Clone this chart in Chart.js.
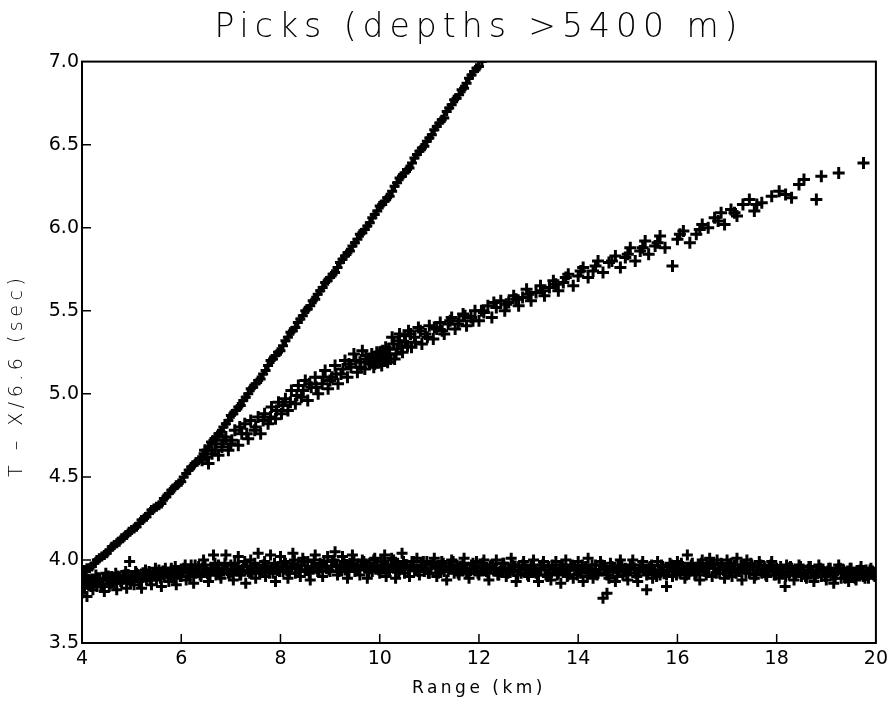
<!DOCTYPE html>
<html>
<head>
<meta charset="utf-8">
<title>Picks (depths >5400 m)</title>
<script src="https://cdn.jsdelivr.net/npm/chart.js@4.4.1/dist/chart.umd.min.js"></script>
<style>
  html, body { margin: 0; padding: 0; background: #fff; }
  #wrap { width: 893px; height: 711px; position: relative; }
</style>
</head>
<body>
<div id="wrap"><canvas id="picksChart"></canvas></div>
<script>
// axis ranges and tick labels
var xTicks = [4, 6, 8, 10, 12, 14, 16, 18, 20];
var yTicks = [3.5, 4.0, 4.5, 5.0, 5.5, 6.0, 6.5, 7.0];

// steep branch (direct arrival), [range km, reduced time s]
var steepPicks = [
  [4.00,3.92],[4.10,3.95],[4.20,3.96],[4.30,4.00],[4.40,4.02],[4.50,4.04],[4.60,4.08],[4.70,4.10],
  [4.80,4.13],[4.90,4.15],[5.00,4.18],[5.10,4.20],[5.20,4.24],[5.30,4.26],[5.40,4.30],[5.50,4.32],
  [5.60,4.34],[5.70,4.38],[5.80,4.42],[5.90,4.45],[6.00,4.47],[6.10,4.52],[6.20,4.56],[6.30,4.59],
  [6.40,4.61],[6.50,4.66],[6.60,4.71],[6.70,4.74],[6.80,4.77],[6.90,4.82],[7.00,4.87],[7.10,4.90],
  [7.20,4.93],[7.30,4.98],[7.40,5.03],[7.50,5.06],[7.60,5.09],[7.70,5.14],[7.80,5.20],[7.90,5.23],
  [8.00,5.26],[8.10,5.32],[8.20,5.37],[8.30,5.40],[8.40,5.45],[8.50,5.50],[8.60,5.53],[8.70,5.57],
  [8.80,5.62],[8.90,5.67],[9.00,5.70],[9.10,5.73],[9.20,5.79],[9.30,5.83],[9.40,5.86],[9.50,5.91],
  [9.60,5.96],[9.70,5.99],[9.80,6.03],[9.90,6.08],[10.00,6.13],[10.10,6.16],[10.20,6.19],[10.30,6.25],
  [10.40,6.30],[10.50,6.33],[10.60,6.36],[10.70,6.42],[10.80,6.46],[10.90,6.49],[11.00,6.54],[11.10,6.59],
  [11.20,6.63],[11.30,6.66],[11.40,6.72],[11.50,6.77],[11.60,6.80],[11.70,6.84],[11.80,6.90],[11.90,6.94],
  [12.00,6.97],[12.06,7.00],
  [4.05,3.94],[4.15,3.95],[4.25,3.98],[4.35,4.01],[4.45,4.03],[4.55,4.06],[4.65,4.09],[4.75,4.11],
  [4.85,4.14],[4.95,4.17],[5.05,4.19],[5.15,4.22],[5.25,4.25],[5.35,4.28],[5.45,4.31],[5.55,4.33],
  [5.65,4.37],[5.75,4.40],[5.85,4.43],[5.95,4.46],[6.05,4.50],[6.15,4.54],[6.25,4.57],[6.35,4.60],
  [6.45,4.64],[6.55,4.68],[6.65,4.72],[6.75,4.76],[6.85,4.80],[6.95,4.84],[7.05,4.88],[7.15,4.92],
  [7.25,4.96],[7.35,5.00],[7.45,5.04],[7.55,5.08],[7.65,5.12],[7.75,5.17],[7.85,5.21],[7.95,5.25],
  [8.05,5.29],[8.15,5.34],[8.25,5.38],[8.35,5.43],[8.45,5.47],[8.55,5.51],[8.65,5.56],[8.75,5.60],
  [8.85,5.64],[8.95,5.68],[9.05,5.72],[9.15,5.76],[9.25,5.81],[9.35,5.85],[9.45,5.89],[9.55,5.93],
  [9.65,5.97],[9.75,6.01],[9.85,6.06],[9.95,6.10],[10.05,6.14],[10.15,6.18],[10.25,6.22],[10.35,6.27],
  [10.45,6.31],[10.55,6.35],[10.65,6.39],[10.75,6.44],[10.85,6.48],[10.95,6.52],[11.05,6.56],[11.15,6.61],
  [11.25,6.65],[11.35,6.70],[11.45,6.74],[11.55,6.78],[11.65,6.83],[11.75,6.87],[11.85,6.92],[11.95,6.96]
];

// middle branch (refracted arrival)
var midPicks = [
  [6.42,4.60],[6.48,4.66],[6.55,4.58],[6.62,4.64],[6.70,4.70],[6.75,4.63],[6.82,4.68],[6.90,4.74],
  [6.95,4.66],[7.02,4.72],[7.08,4.78],[7.15,4.69],[7.22,4.76],[7.28,4.82],[7.35,4.73],[7.40,4.84],
  [7.48,4.78],[7.55,4.86],[7.60,4.76],[7.68,4.88],[7.75,4.82],[7.82,4.92],[7.90,4.85],[7.96,4.95],
  [8.02,4.88],[8.10,4.97],[8.15,4.90],[8.22,5.02],[8.30,4.94],[8.36,5.05],[8.42,4.98],[8.50,5.08],
  [8.55,4.96],[8.62,5.04],[8.70,5.10],[8.76,5.00],[8.84,5.06],[8.90,5.14],[8.96,5.03],[9.04,5.10],
  [9.10,5.17],[9.16,5.06],[9.22,5.12],[9.30,5.20],[9.35,5.10],[9.42,5.16],[9.48,5.24],[9.55,5.13],
  [9.60,5.19],[9.65,5.26],[9.70,5.15],[9.74,5.21],[9.80,5.18],[9.84,5.24],[9.88,5.16],[9.92,5.22],
  [9.96,5.19],[10.00,5.25],[10.04,5.17],[10.08,5.22],[10.12,5.28],[10.16,5.19],[10.20,5.24],[10.25,5.34],
  [10.30,5.21],[10.35,5.27],[10.40,5.36],[10.46,5.25],[10.52,5.31],[10.58,5.38],[10.64,5.28],[10.70,5.34],
  [10.78,5.40],[10.85,5.30],[10.92,5.36],[11.00,5.41],[11.08,5.33],[11.15,5.39],[11.22,5.43],[11.30,5.36],
  [11.38,5.42],[11.45,5.46],[11.52,5.39],[11.60,5.44],[11.68,5.48],[11.75,5.41],[11.84,5.46],[11.92,5.50],
  [12.00,5.44],[12.10,5.49],[12.18,5.53],[12.26,5.46],[12.35,5.52],[12.44,5.56],[12.52,5.50],[12.60,5.55],
  [12.70,5.59],[12.80,5.53],[12.88,5.58],[12.96,5.63],[13.05,5.56],[13.15,5.61],[13.24,5.65],[13.32,5.59],
  [13.42,5.64],[13.50,5.68],[13.60,5.62],[13.70,5.67],[13.80,5.72],[13.90,5.65],[14.00,5.71],[14.10,5.76],
  [14.20,5.70],[14.30,5.74],[14.40,5.80],[14.50,5.73],[14.62,5.79],[14.75,5.83],[14.85,5.76],[14.95,5.82],
  [15.05,5.88],[15.15,5.80],[15.25,5.86],[15.35,5.92],[15.42,5.84],[15.55,5.89],[15.65,5.95],[15.75,5.88],
  [15.90,5.77],[16.00,5.93],[16.12,5.98],[16.25,5.91],[16.38,5.96],[16.50,6.02],[16.62,6.00],[16.75,6.06],
  [16.88,6.09],[16.95,6.02],[17.08,6.11],[17.20,6.07],[17.32,6.14],[17.45,6.17],[17.55,6.10],[17.70,6.15],
  [17.90,6.19],[18.05,6.22],[18.18,6.20],[18.30,6.18],[18.45,6.26],[18.55,6.29],[18.80,6.17],[18.90,6.31],
  [19.25,6.33],[19.75,6.39],
  [6.52,4.62],[6.68,4.66],[6.85,4.72],[7.00,4.70],[7.18,4.80],[7.32,4.76],[7.50,4.80],[7.65,4.84],
  [7.80,4.86],[7.92,4.90],[8.05,4.93],[8.20,4.95],[8.33,4.99],[8.46,5.02],[8.58,5.06],[8.72,5.04],
  [8.86,5.10],[9.00,5.08],[9.12,5.12],[9.26,5.15],[9.38,5.18],[9.52,5.20],[9.62,5.16],[9.72,5.23],
  [9.78,5.20],[9.86,5.20],[9.90,5.18],[9.94,5.25],[9.98,5.21],[10.02,5.19],[10.06,5.26],[10.10,5.20],
  [10.14,5.23],[10.18,5.27],[10.22,5.21],[10.28,5.30],[10.33,5.24],[10.38,5.32],[10.44,5.28],[10.50,5.35],
  [10.56,5.29],[10.62,5.36],[10.72,5.31],[10.82,5.38],[10.96,5.34],[11.10,5.40],[11.26,5.38],[11.42,5.44],
  [11.58,5.42],[11.72,5.47],[11.88,5.44],[12.05,5.50],[12.30,5.55],[12.55,5.54],[12.75,5.57],[13.00,5.60],
  [13.28,5.62],[13.55,5.66],[13.75,5.70],[14.05,5.74],[14.35,5.77],[14.68,5.80],[15.00,5.84],[15.30,5.88],
  [15.60,5.91],[16.05,5.96],[16.45,5.99],[16.82,6.04],[17.15,6.09],[17.60,6.14]
];

// flat branch (reflection from the deep layer), scattered picks
var flatPicks = [
  [4.00,3.80],[4.02,3.86],[4.05,3.83],[4.08,3.89],[4.10,3.78],[4.14,3.85],[4.18,3.88],[4.22,3.82],
  [4.26,3.87],[4.30,3.84],[4.35,3.89],[4.40,3.85],[4.45,3.81],[4.50,3.88],[4.55,3.84],[4.60,3.90],
  [4.65,3.86],[4.70,3.82],[4.75,3.89],[4.80,3.86],[4.85,3.91],[4.90,3.83],[4.95,3.88],[4.96,3.99],
  [5.00,3.90],[5.05,3.85],[5.10,3.92],[5.15,3.87],[5.20,3.83],[5.25,3.90],[5.30,3.88],[5.35,3.93],
  [5.40,3.85],[5.45,3.91],[5.50,3.88],[5.55,3.94],[5.60,3.84],[5.65,3.90],[5.70,3.92],[5.75,3.87],
  [5.80,3.95],[5.85,3.89],[5.90,3.85],[5.95,3.92],
  [6.00,3.90],[6.05,3.95],[6.10,3.88],[6.15,3.93],[6.20,3.97],[6.25,3.86],[6.30,3.92],[6.35,3.96],
  [6.40,3.90],[6.45,4.00],[6.50,3.93],[6.55,3.87],[6.60,3.95],[6.65,4.03],[6.70,3.91],[6.75,3.97],
  [6.80,3.89],[6.85,3.94],[6.90,4.03],[6.95,3.92],
  [7.00,3.97],[7.05,3.88],[7.10,3.94],[7.15,4.02],[7.20,3.91],[7.25,3.96],[7.30,3.86],[7.35,3.93],
  [7.40,4.00],[7.45,3.95],[7.50,3.89],[7.55,4.04],[7.60,3.93],[7.65,3.97],[7.70,3.90],[7.75,3.95],
  [7.80,4.03],[7.85,3.92],[7.90,3.87],[7.95,3.96],
  [8.00,4.02],[8.05,3.93],[8.10,3.98],[8.15,3.89],[8.20,3.95],[8.25,4.04],[8.30,3.92],[8.35,3.97],
  [8.40,3.90],[8.45,4.01],[8.50,3.94],[8.55,3.99],[8.60,3.88],[8.65,3.95],[8.70,4.03],[8.75,3.93],
  [8.80,3.98],[8.85,3.90],[8.90,3.96],[8.95,4.02],
  [9.00,3.93],[9.05,3.99],[9.10,4.05],[9.15,3.91],[9.20,3.96],[9.25,4.02],[9.30,3.94],[9.35,3.89],
  [9.40,3.98],[9.45,4.03],[9.50,3.93],[9.55,3.97],[9.60,3.91],[9.65,4.00],[9.70,3.95],[9.75,3.89],
  [9.80,3.98],[9.85,3.93],[9.90,4.01],[9.95,3.96],
  [10.00,3.92],[10.03,3.99],[10.06,3.95],[10.10,4.03],[10.13,3.90],[10.16,3.97],[10.20,3.93],[10.24,4.01],
  [10.28,3.95],[10.32,3.89],[10.36,3.98],[10.40,3.94],[10.45,4.04],[10.50,3.92],[10.55,3.97],[10.60,3.90],
  [10.65,3.99],[10.70,3.94],[10.75,4.01],[10.80,3.91],[10.85,3.96],[10.90,3.93],[10.95,3.99],
  [11.00,3.92],[11.05,3.97],[11.10,4.01],[11.15,3.90],[11.20,3.95],[11.25,3.99],[11.30,3.93],[11.35,3.88],
  [11.40,3.96],[11.45,4.00],[11.50,3.92],[11.55,3.97],[11.60,3.91],[11.65,3.95],[11.70,4.01],[11.75,3.93],
  [11.80,3.89],[11.85,3.97],[11.90,3.94],[11.95,3.99],
  [12.00,3.91],[12.05,3.96],[12.10,4.00],[12.15,3.93],[12.20,3.88],[12.25,3.97],[12.30,3.94],[12.35,4.00],
  [12.40,3.91],[12.45,3.95],[12.50,3.98],[12.55,3.90],[12.60,3.95],[12.65,4.01],[12.70,3.93],[12.75,3.87],
  [12.80,3.96],[12.85,3.92],[12.90,3.99],[12.95,3.94],
  [13.00,3.90],[13.05,3.96],[13.10,4.00],[13.15,3.92],[13.20,3.87],[13.25,3.95],[13.30,3.99],[13.35,3.91],
  [13.40,3.96],[13.45,3.88],[13.50,3.94],[13.55,3.99],[13.60,3.92],[13.65,3.86],[13.70,3.95],[13.75,4.00],
  [13.80,3.91],[13.85,3.96],[13.90,3.89],[13.95,3.94],
  [14.00,3.99],[14.05,3.92],[14.10,3.87],[14.15,3.96],[14.20,4.01],[14.25,3.93],[14.30,3.89],[14.35,3.97],
  [14.40,3.92],[14.45,3.99],[14.50,3.77],[14.55,3.94],[14.58,3.80],[14.62,3.89],[14.65,3.98],[14.70,3.93],
  [14.75,3.87],[14.80,3.96],[14.85,4.00],[14.90,3.91],[14.95,3.95],
  [15.00,3.88],[15.05,3.96],[15.10,4.00],[15.15,3.92],[15.20,3.87],[15.25,3.95],[15.30,3.99],[15.38,3.82],
  [15.40,3.92],[15.45,3.96],[15.50,3.89],[15.55,3.94],[15.60,3.99],[15.65,3.91],[15.70,3.96],[15.78,3.84],
  [15.80,3.93],[15.85,3.98],[15.90,3.90],[15.95,3.95],
  [16.00,3.99],[16.05,3.92],[16.10,3.96],[16.15,3.89],[16.20,4.03],[16.25,3.94],[16.30,3.98],[16.35,3.91],
  [16.40,3.95],[16.45,3.88],[16.50,4.00],[16.55,3.93],[16.60,3.97],[16.65,4.01],[16.70,3.90],[16.75,3.95],
  [16.80,4.00],[16.85,3.92],[16.90,3.97],[16.95,3.89],
  [17.00,4.00],[17.05,3.94],[17.10,3.90],[17.15,3.97],[17.20,4.01],[17.25,3.93],[17.30,3.88],[17.35,3.96],
  [17.40,4.00],[17.45,3.92],[17.50,3.97],[17.55,3.89],[17.60,3.94],[17.65,3.99],[17.70,3.92],[17.75,3.96],
  [17.80,3.90],[17.85,3.95],[17.90,3.99],[17.95,3.91],
  [18.00,3.95],[18.05,3.89],[18.10,3.93],[18.17,3.84],[18.20,3.97],[18.25,3.91],[18.30,3.95],[18.35,3.88],
  [18.40,3.93],[18.45,3.97],[18.50,3.90],[18.55,3.94],[18.60,3.89],[18.65,3.96],[18.70,3.92],[18.75,3.87],
  [18.80,3.94],[18.85,3.97],[18.90,3.90],[18.95,3.93],
  [19.00,3.88],[19.05,3.95],[19.10,3.91],[19.15,3.86],[19.20,3.93],[19.25,3.97],[19.30,3.89],[19.35,3.94],
  [19.40,3.90],[19.45,3.87],[19.50,3.95],[19.55,3.91],[19.60,3.88],[19.65,3.93],[19.70,3.96],[19.75,3.90],
  [19.80,3.94],[19.85,3.89],[19.90,3.95],[19.95,3.91],[20.00,3.92]
];

// flat branch, the dense core of the band
var flatCore = [
  [4.03,3.86],[4.13,3.88],[4.23,3.87],[4.33,3.89],[4.43,3.88],[4.53,3.90],[4.63,3.88],[4.73,3.90],[4.83,3.89],[4.93,3.91],
  [5.03,3.89],[5.13,3.91],[5.23,3.92],[5.33,3.90],[5.43,3.92],[5.53,3.91],[5.63,3.93],[5.73,3.91],[5.83,3.93],[5.93,3.92],
  [6.03,3.94],[6.13,3.92],[6.23,3.94],[6.33,3.93],[6.43,3.95],[6.53,3.92],[6.63,3.94],[6.73,3.93],[6.83,3.95],[6.93,3.94],
  [7.03,3.93],[7.13,3.95],[7.23,3.94],[7.33,3.96],[7.43,3.93],[7.53,3.95],[7.63,3.94],[7.73,3.96],[7.83,3.95],[7.93,3.94],
  [8.03,3.96],[8.13,3.94],[8.23,3.96],[8.33,3.95],[8.43,3.97],[8.53,3.94],[8.63,3.96],[8.73,3.95],[8.83,3.97],[8.93,3.95],
  [9.03,3.96],[9.13,3.97],[9.23,3.95],[9.33,3.97],[9.43,3.96],[9.53,3.95],[9.63,3.97],[9.73,3.96],[9.83,3.95],[9.93,3.97],
  [10.03,3.96],[10.13,3.95],[10.23,3.97],[10.33,3.96],[10.43,3.95],[10.53,3.97],[10.63,3.96],[10.73,3.94],[10.83,3.97],[10.93,3.95],
  [11.03,3.95],[11.13,3.96],[11.23,3.94],[11.33,3.96],[11.43,3.95],[11.53,3.94],[11.63,3.96],[11.73,3.95],[11.83,3.94],[11.93,3.96],
  [12.03,3.95],[12.13,3.94],[12.23,3.96],[12.33,3.95],[12.43,3.93],[12.53,3.95],[12.63,3.94],[12.73,3.96],[12.83,3.94],[12.93,3.95],
  [13.03,3.94],[13.13,3.93],[13.23,3.95],[13.33,3.94],[13.43,3.92],[13.53,3.94],[13.63,3.95],[13.73,3.93],[13.83,3.94],[13.93,3.95],
  [14.03,3.93],[14.13,3.95],[14.23,3.94],[14.33,3.92],[14.43,3.94],[14.53,3.95],[14.63,3.93],[14.73,3.95],[14.83,3.94],[14.93,3.93],
  [15.03,3.94],[15.13,3.95],[15.23,3.93],[15.33,3.94],[15.43,3.95],[15.53,3.93],[15.63,3.94],[15.73,3.92],[15.83,3.94],[15.93,3.95],
  [16.03,3.94],[16.13,3.95],[16.23,3.93],[16.33,3.95],[16.43,3.96],[16.53,3.94],[16.63,3.95],[16.73,3.97],[16.83,3.95],[16.93,3.94],
  [17.03,3.96],[17.13,3.95],[17.23,3.94],[17.33,3.96],[17.43,3.95],[17.53,3.94],[17.63,3.96],[17.73,3.94],[17.83,3.93],[17.93,3.95],
  [18.03,3.94],[18.13,3.93],[18.23,3.95],[18.33,3.93],[18.43,3.94],[18.53,3.92],[18.63,3.94],[18.73,3.93],[18.83,3.92],[18.93,3.94],
  [19.03,3.93],[19.13,3.92],[19.23,3.94],[19.33,3.92],[19.43,3.93],[19.53,3.91],[19.63,3.93],[19.73,3.92],[19.83,3.91],[19.93,3.93]
];

// flat branch, upper and lower edges of the core
var flatEdges = [
  [4.08,3.90],[4.18,3.84],[4.28,3.91],[4.38,3.85],[4.48,3.92],[4.58,3.86],[4.68,3.92],[4.78,3.87],[4.88,3.93],[4.98,3.87],
  [5.08,3.93],[5.18,3.88],[5.28,3.94],[5.38,3.88],[5.48,3.95],[5.58,3.89],[5.68,3.95],[5.78,3.90],[5.88,3.96],[5.98,3.90],
  [6.08,3.97],[6.18,3.90],[6.28,3.97],[6.38,3.91],[6.48,3.97],[6.58,3.91],[6.68,3.98],[6.78,3.91],[6.88,3.98],[6.98,3.92],
  [7.08,3.98],[7.18,3.91],[7.28,3.99],[7.38,3.92],[7.48,3.98],[7.58,3.92],[7.68,3.99],[7.78,3.92],[7.88,3.98],[7.98,3.93],
  [8.08,3.99],[8.18,3.92],[8.28,4.00],[8.38,3.93],[8.48,3.99],[8.58,3.92],[8.68,4.00],[8.78,3.93],[8.88,3.99],[8.98,3.94],
  [9.08,4.00],[9.18,3.93],[9.28,3.99],[9.38,3.93],[9.48,4.00],[9.58,3.94],[9.68,3.99],[9.78,3.93],[9.88,4.00],[9.98,3.94],
  [10.08,3.99],[10.18,3.93],[10.28,4.00],[10.38,3.93],[10.48,3.99],[10.58,3.94],[10.68,3.99],[10.78,3.93],[10.88,3.99],[10.98,3.92],
  [11.08,3.98],[11.18,3.92],[11.28,3.98],[11.38,3.93],[11.48,3.99],[11.58,3.92],[11.68,3.98],[11.78,3.92],[11.88,3.98],[11.98,3.92],
  [12.08,3.98],[12.18,3.92],[12.28,3.97],[12.38,3.91],[12.48,3.98],[12.58,3.92],[12.68,3.97],[12.78,3.91],[12.88,3.97],[12.98,3.91],
  [13.08,3.97],[13.18,3.91],[13.28,3.97],[13.38,3.90],[13.48,3.97],[13.58,3.91],[13.68,3.97],[13.78,3.90],[13.88,3.97],[13.98,3.91],
  [14.08,3.97],[14.18,3.90],[14.28,3.97],[14.38,3.91],[14.48,3.97],[14.58,3.91],[14.68,3.96],[14.78,3.90],[14.88,3.97],[14.98,3.91],
  [15.08,3.97],[15.18,3.90],[15.28,3.97],[15.38,3.91],[15.48,3.97],[15.58,3.90],[15.68,3.97],[15.78,3.91],[15.88,3.97],[15.98,3.91],
  [16.08,3.98],[16.18,3.91],[16.28,3.97],[16.38,3.92],[16.48,3.98],[16.58,3.91],[16.68,3.98],[16.78,3.92],[16.88,3.98],[16.98,3.92],
  [17.08,3.98],[17.18,3.92],[17.28,3.97],[17.38,3.92],[17.48,3.98],[17.58,3.91],[17.68,3.97],[17.78,3.91],[17.88,3.97],[17.98,3.91],
  [18.08,3.96],[18.18,3.90],[18.28,3.96],[18.38,3.91],[18.48,3.96],[18.58,3.90],[18.68,3.96],[18.78,3.90],[18.88,3.95],[18.98,3.90],
  [19.08,3.95],[19.18,3.89],[19.28,3.95],[19.38,3.89],[19.48,3.95],[19.58,3.89],[19.68,3.94],[19.78,3.89],[19.88,3.94],[19.98,3.90]
];

var FONT = "'DejaVu Sans', sans-serif";

function toPoints(list) {
  return list.map(function (p) { return { x: p[0], y: p[1] }; });
}

function picksDataset(list, radius, width) {
  return {
    data: toPoints(list),
    pointStyle: 'cross',
    pointRadius: radius,
    pointHoverRadius: radius,
    borderColor: '#000',
    backgroundColor: '#000',
    borderWidth: width,
    showLine: false
  };
}

// draw a text block with the wide letter spacing of the plotter font
function spaced(obj, name, spacing, shiftY) {
  if (!obj || obj['_spaced_' + name]) return;
  var orig = obj[name];
  obj[name] = function () {
    var ctx = this.ctx;
    ctx.save();
    ctx.letterSpacing = spacing;
    ctx.translate(0, shiftY);
    orig.apply(this, arguments);
    ctx.restore();
  };
  obj['_spaced_' + name] = true;
}

// box round the plot and inward pointing ticks, like the old plotter output
var frameTicks = {
  id: 'frameTicks',
  beforeDraw: function (chart) {
    spaced(chart.titleBlock, 'draw', '6px', 0);
    spaced(chart.scales.x, 'drawTitle', '3.5px', 0);
    spaced(chart.scales.y, 'drawTitle', '4.5px', 23);
  },
  afterDatasetsDraw: function (chart) {
    var ctx = chart.ctx, a = chart.chartArea;
    var xs = chart.scales.x, ys = chart.scales.y;
    ctx.save();
    ctx.strokeStyle = '#000';
    ctx.lineWidth = 2;
    ctx.strokeRect(a.left, a.top, a.right - a.left, a.bottom - a.top);
    ctx.lineWidth = 1.5;
    ctx.beginPath();
    xTicks.slice(1, -1).forEach(function (v) {
      var px = xs.getPixelForValue(v);
      ctx.moveTo(px, a.bottom);
      ctx.lineTo(px, a.bottom - 9);
    });
    yTicks.slice(1, -1).forEach(function (v) {
      var py = ys.getPixelForValue(v);
      ctx.moveTo(a.left, py);
      ctx.lineTo(a.left + 9, py);
    });
    ctx.stroke();
    ctx.restore();
  }
};

Chart.defaults.font.family = FONT;
Chart.defaults.color = '#000';

var el = document.getElementById('picksChart').getContext('2d');
var picksChart = new Chart(el, {
  type: 'scatter',
  data: {
    datasets: [
      picksDataset(flatPicks, 5.5, 3),
      picksDataset(flatCore, 6, 3),
      picksDataset(flatEdges, 5.5, 3),
      picksDataset(midPicks, 6, 3),
      picksDataset(steepPicks, 5, 3)
    ]
  },
  options: {
    responsive: true,
    maintainAspectRatio: false,
    animation: false,
    layout: { padding: { left: 0, right: 15, top: 0, bottom: 0 } },
    plugins: {
      legend: { display: false },
      tooltip: { enabled: false },
      title: {
        display: true,
        fullSize: false,
        text: 'Picks (depths >5400 m)',
        font: { size: 33, weight: 200, family: FONT },
        color: '#000',
        padding: { top: 9, bottom: 13 }
      }
    },
    scales: {
      x: {
        type: 'linear',
        min: 4,
        max: 20,
        afterBuildTicks: function (scale) {
          scale.ticks = xTicks.map(function (v) { return { value: v }; });
        },
        afterFit: function (scale) { scale.height = 68; },
        grid: { display: false, drawTicks: false },
        border: { display: true, color: '#000', width: 2 },
        ticks: { font: { size: 19 }, padding: 5, maxRotation: 0 },
        title: {
          display: true,
          text: 'Range (km)',
          font: { size: 17 },
          padding: { top: 0, bottom: 12 }
        }
      },
      y: {
        type: 'linear',
        min: 3.5,
        max: 7.0,
        afterBuildTicks: function (scale) {
          scale.ticks = yTicks.map(function (v) { return { value: v }; });
        },
        afterFit: function (scale) { scale.width = 82; },
        grid: { display: false, drawTicks: false },
        border: { display: true, color: '#000', width: 2 },
        ticks: {
          font: { size: 19 },
          padding: 3,
          callback: function (v) { return Number(v).toFixed(1); }
        },
        title: {
          display: true,
          text: 'T \u2013 X/6.6 (sec)',
          font: { size: 19, weight: 300 },
          padding: { top: 6, bottom: 4 }
        }
      }
    }
  },
  plugins: [frameTicks]
});
</script>
</body>
</html>
